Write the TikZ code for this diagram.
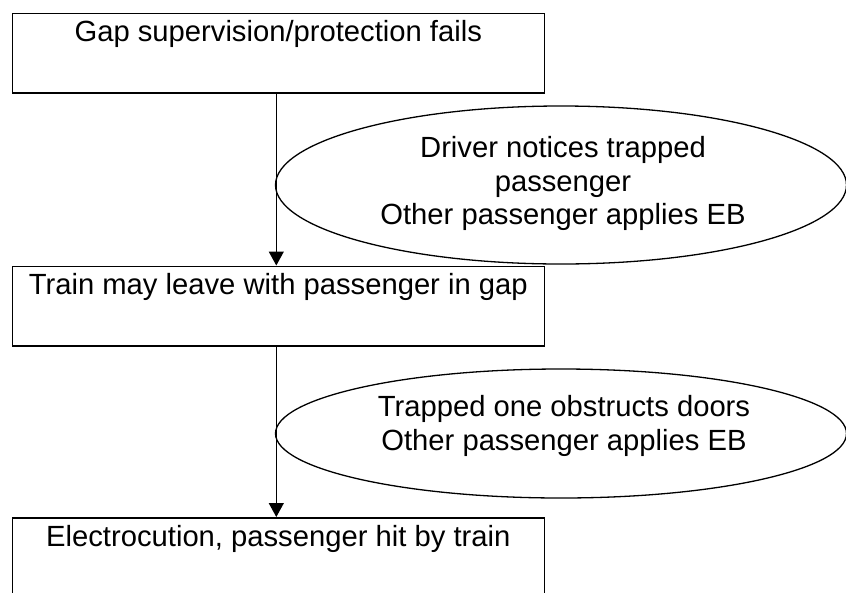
\documentclass[tikz,border=0pt]{standalone}
\usepackage{fontspec}
\setmainfont{Liberation Sans}
\usetikzlibrary{shapes.geometric,arrows.meta}
\begin{document}
\begin{tikzpicture}[x=1pt,y=-1pt,
  labelfont/.style={font=\fontsize{29.2}{33.5}\selectfont},
  box/.style={draw, line width=1.5pt, minimum width=532pt, inner sep=0pt,
    text height=28.5pt, text depth=51pt, anchor=north, labelfont},
  oval/.style={draw, ellipse, line width=1.3pt, inner sep=0pt},
  txt/.style={align=center, inner sep=0pt, labelfont},
  flow/.style={line width=1.3pt, -{Triangle[width=15pt,length=14pt]}}]
\clip (0,0) rectangle (846,592);

% event boxes
\node[box] (b1) at (278.3,12.7) {Gap supervision/protection fails};
\node[box] (b2) at (278.3,265.5) {Train may leave with passenger in gap};
\node[box] (b3) at (278.3,517) {Electrocution, passenger hit by train};

% barrier ovals
\node[oval, minimum width=571pt, minimum height=158pt] (e1) at (561,185) {};
\node[oval, minimum width=571pt, minimum height=129pt] (e2) at (561,433.5) {};
\node[txt] (t1) at (563,183.5) {Driver notices trapped\\passenger\\Other passenger applies EB};
\node[txt] (t2) at (564,426) {Trapped one obstructs doors\\Other passenger applies EB};

% escalation arrows
\draw[flow] ([xshift=-2pt]b1.south) -- ([xshift=-2pt]b2.north);
\draw[flow] ([xshift=-2pt]b2.south) -- ([xshift=-2pt]b3.north);
\end{tikzpicture}
\end{document}
